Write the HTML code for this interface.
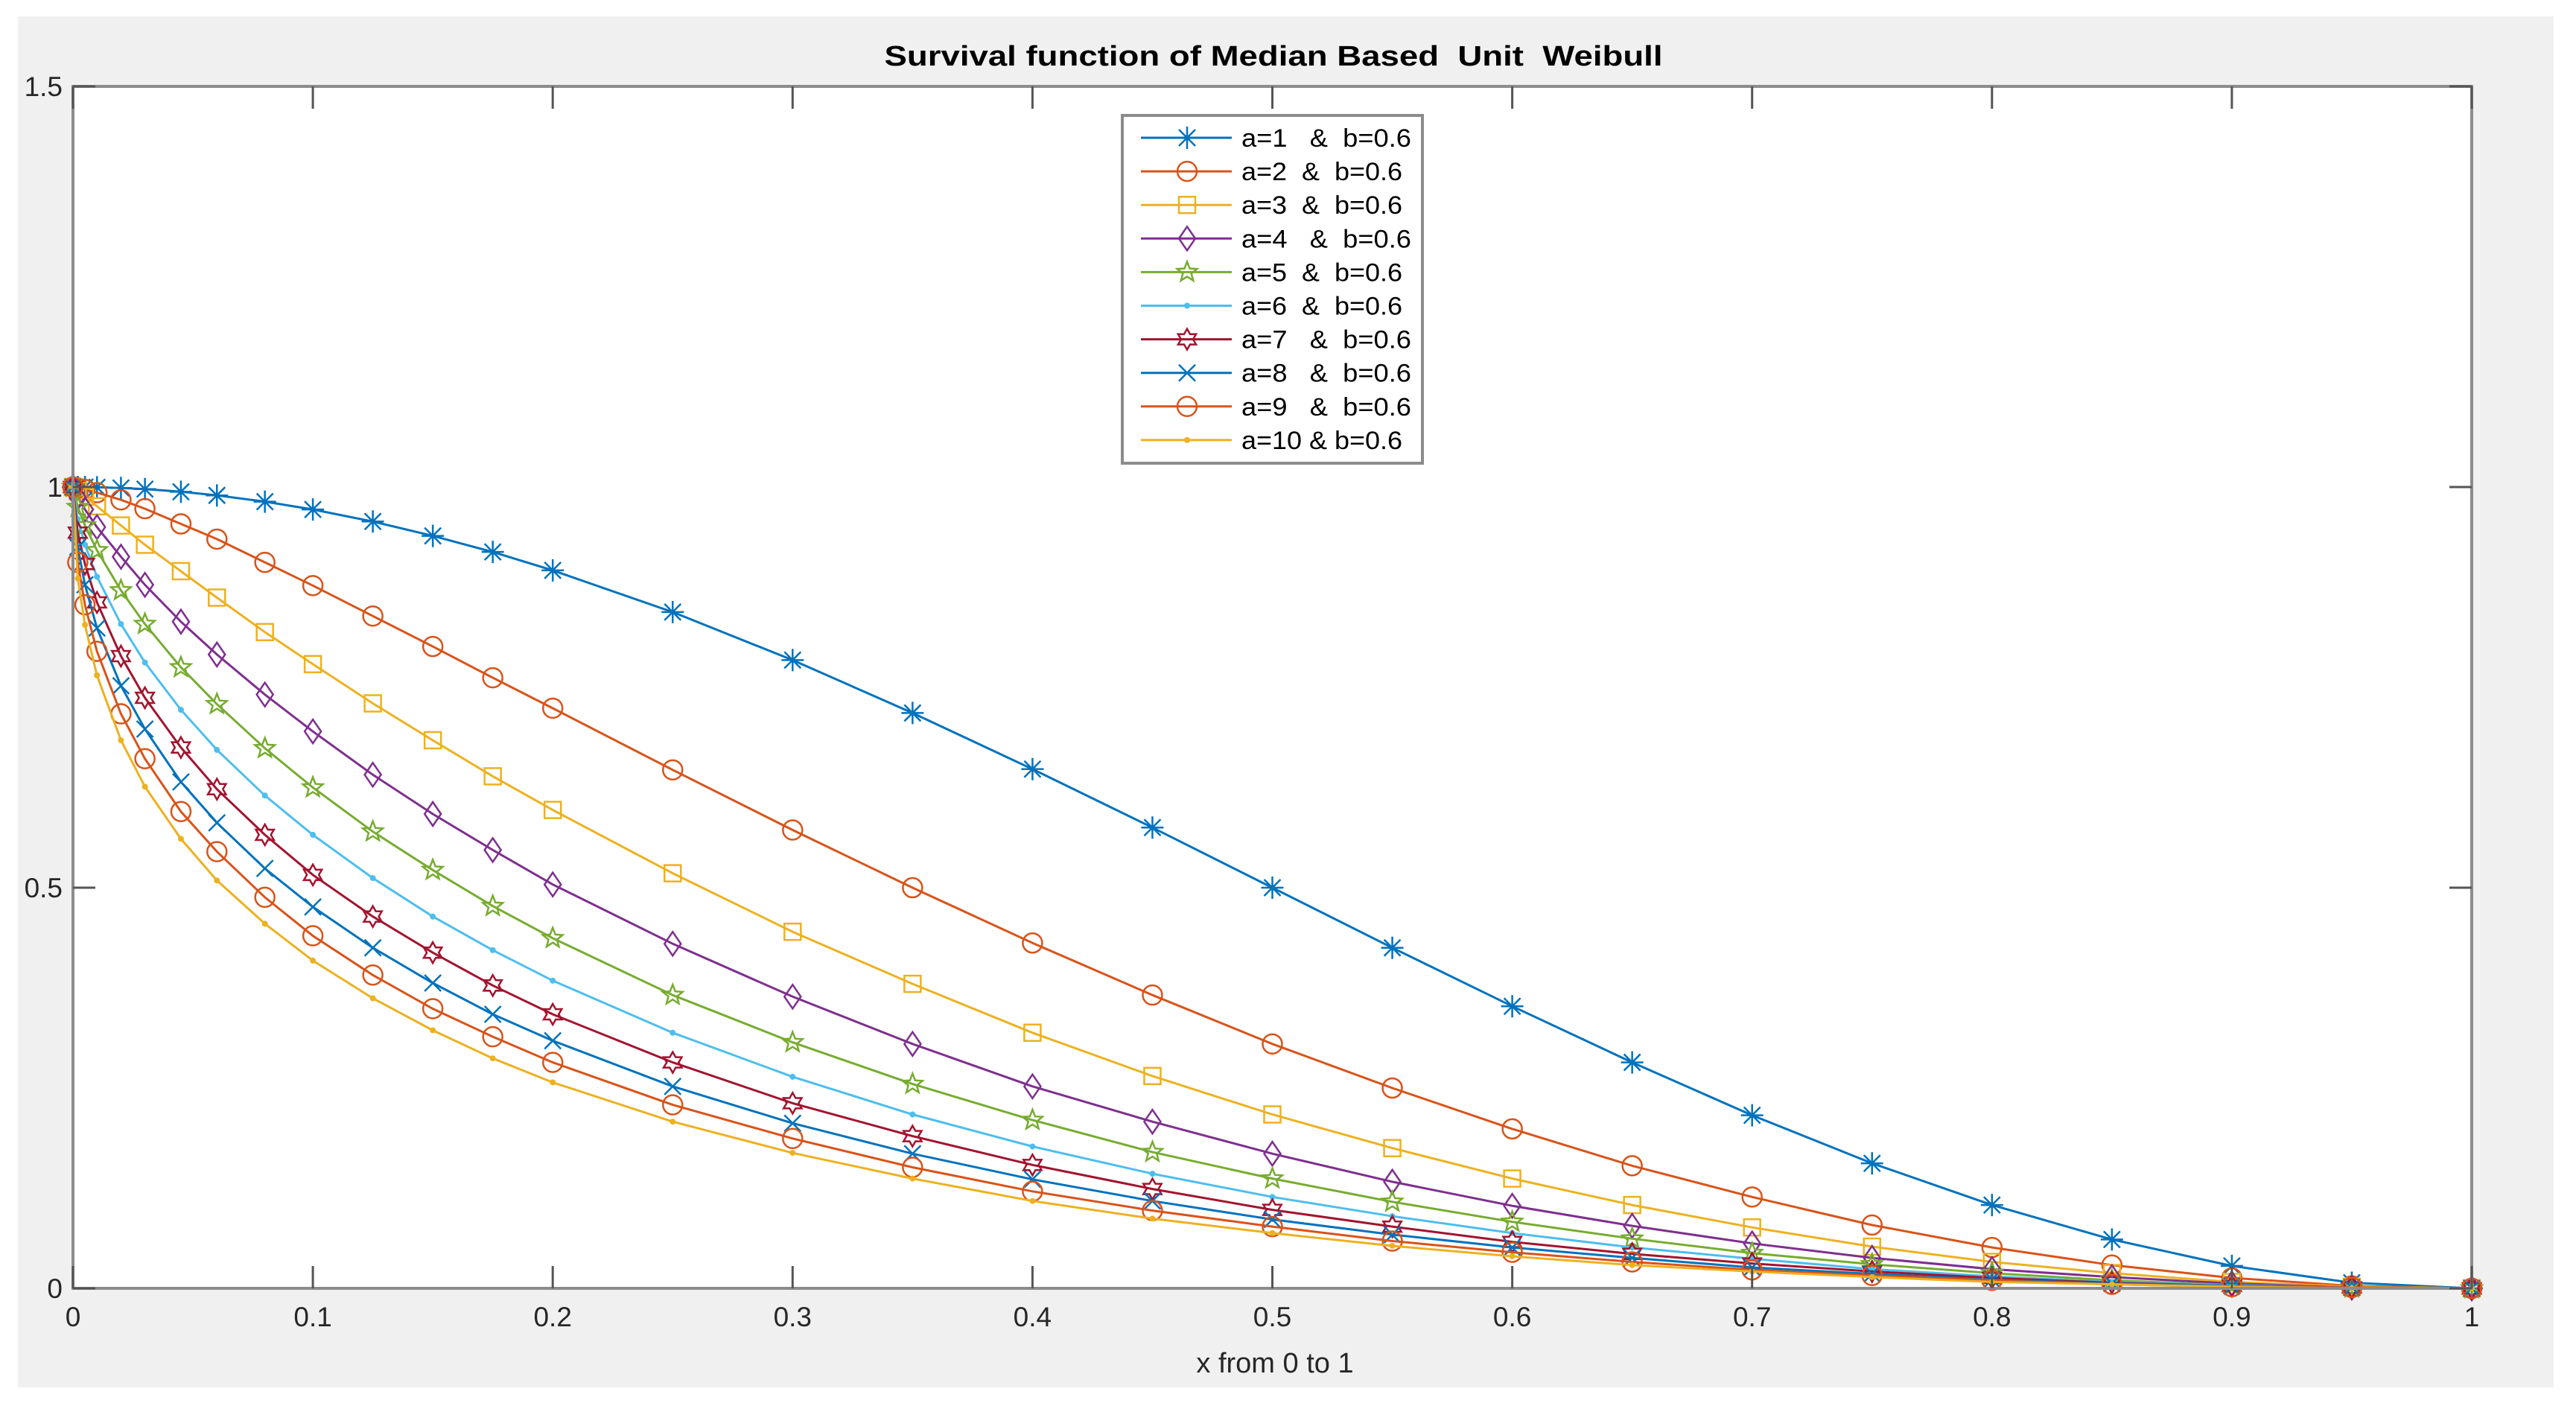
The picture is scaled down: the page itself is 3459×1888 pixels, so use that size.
<!DOCTYPE html>
<html><head><meta charset="utf-8"><style>
html,body{margin:0;padding:0;background:#fff}
svg{display:block}
text{font-family:"Liberation Sans",sans-serif}
.pre{white-space:pre}
</style></head><body>
<svg id="chart" width="3459" height="1888" viewBox="0 0 3459 1888" xmlns="http://www.w3.org/2000/svg">
<rect x="0" y="0" width="3459" height="1888" fill="#ffffff"/>
<rect x="24" y="22" width="3405" height="1841" fill="#f0f0f0"/>
<rect x="98" y="116" width="3221" height="1614" fill="#ffffff"/>
<g id="series-layer"></g>
<g id="axes-layer"></g>
<text x="1710" y="88" text-anchor="middle" font-size="38" font-weight="bold" fill="#000" textLength="1045" lengthAdjust="spacingAndGlyphs" class="pre">Survival function of Median Based  Unit  Weibull</text>
<text x="1712" y="1843" text-anchor="middle" font-size="38" fill="#262626">x from 0 to 1</text>
<g id="legend"></g>
</svg>
<script>
const xValues = [0,0.002,0.005,0.01,0.02,0.03,0.045,0.06,0.08,0.1,0.125,0.15,0.175,0.2,0.25,0.3,0.35,0.4,0.45,0.5,0.55,0.6,0.65,0.7,0.75,0.8,0.85,0.9,0.95,1];
const sA1 = [1,1,1,0.9997,0.9988,0.9974,0.9941,0.9896,0.9818,0.972,0.957,0.939,0.919,0.896,0.844,0.784,0.718,0.648,0.575,0.5,0.425,0.352,0.282,0.216,0.156,0.104,0.061,0.028,0.007,0];
const sA2 = [1,0.999,0.997,0.993,0.984,0.973,0.954,0.935,0.906,0.877,0.839,0.801,0.762,0.724,0.647,0.572,0.5,0.431,0.366,0.305,0.25,0.199,0.153,0.114,0.079,0.051,0.029,0.013,0.003,0];
const sA3 = [1,0.995,0.988,0.976,0.952,0.928,0.895,0.862,0.819,0.779,0.73,0.684,0.639,0.597,0.518,0.445,0.38,0.319,0.265,0.217,0.175,0.137,0.104,0.076,0.052,0.033,0.019,0.008,0.002,0];
const sA4 = [1,0.987,0.972,0.95,0.913,0.878,0.832,0.791,0.741,0.695,0.641,0.592,0.547,0.504,0.43,0.364,0.305,0.252,0.208,0.168,0.133,0.103,0.078,0.056,0.038,0.024,0.014,0.006,0.001,0];
const sA5 = [1,0.975,0.952,0.921,0.871,0.829,0.775,0.729,0.674,0.625,0.57,0.522,0.477,0.437,0.366,0.307,0.255,0.21,0.17,0.137,0.108,0.083,0.062,0.044,0.03,0.019,0.01,0.004,0.001,0];
const sA6 = [1,0.96,0.928,0.888,0.829,0.781,0.722,0.672,0.615,0.566,0.512,0.464,0.422,0.384,0.319,0.264,0.217,0.177,0.143,0.114,0.09,0.069,0.051,0.037,0.024,0.015,0.008,0.004,0.001,0];
const sA7 = [1,0.943,0.904,0.856,0.789,0.737,0.675,0.623,0.566,0.516,0.464,0.419,0.378,0.342,0.282,0.231,0.19,0.154,0.124,0.098,0.077,0.058,0.043,0.031,0.021,0.013,0.007,0.003,0.001,0];
const sA8 = [1,0.925,0.878,0.824,0.752,0.698,0.632,0.581,0.524,0.476,0.425,0.381,0.342,0.309,0.252,0.206,0.168,0.136,0.109,0.086,0.067,0.051,0.038,0.026,0.018,0.011,0.006,0.003,0.001,0];
const sA9 = [1,0.906,0.853,0.795,0.717,0.661,0.595,0.545,0.488,0.44,0.391,0.349,0.314,0.282,0.229,0.187,0.151,0.121,0.097,0.077,0.059,0.045,0.033,0.023,0.016,0.01,0.005,0.002,0.001,0];
const sA10 = [1,0.886,0.828,0.765,0.684,0.626,0.561,0.509,0.455,0.409,0.362,0.322,0.287,0.257,0.208,0.169,0.137,0.109,0.087,0.069,0.053,0.04,0.029,0.021,0.014,0.008,0.005,0.002,0,0];
const seriesLabels = ["a=1   &  b=0.6","a=2  &  b=0.6","a=3  &  b=0.6","a=4   &  b=0.6","a=5  &  b=0.6","a=6  &  b=0.6","a=7   &  b=0.6","a=8   &  b=0.6","a=9   &  b=0.6","a=10 & b=0.6"];
const xTicks = [0,0.1,0.2,0.3,0.4,0.5,0.6,0.7,0.8,0.9,1];
const xTickLabels = ["0","0.1","0.2","0.3","0.4","0.5","0.6","0.7","0.8","0.9","1"];
const yTicks = [0,0.5,1,1.5];
const yTickLabels = ["0","0.5","1","1.5"];

const allSeries = [sA1,sA2,sA3,sA4,sA5,sA6,sA7,sA8,sA9,sA10];
const colors = ["#0072BD","#D95319","#EDB120","#7E2F8E","#77AC30","#4DBEEE","#A2142F","#0072BD","#D95319","#EDB120"];
const markers = ["star","circle","square","diamond","pentagram","dot","hexagram","cross","circle","dot"];
const L=98,R=3319,T=116,B=1730;
function sx(v){return L+(v-0)/(1-0)*(R-L);}
function sy(v){return B-(v-0)/(1.5-0)*(B-T);}
const NS="http://www.w3.org/2000/svg";
function mk(tag,attrs,parent){const e=document.createElementNS(NS,tag);for(const k in attrs)e.setAttribute(k,attrs[k]);parent.appendChild(e);return e;}
function starPts(cx,cy,n,ro,ri){let p=[];for(let i=0;i<2*n;i++){const r=i%2?ri:ro;const a=-Math.PI/2+i*Math.PI/n;p.push((cx+r*Math.cos(a)).toFixed(1)+","+(cy+r*Math.sin(a)).toFixed(1));}return p.join(" ");}
function drawMarker(type,cx,cy,color,g){
  let e;
  const sw=2.5;
  if(type==="circle"){e=mk("circle",{cx:cx,cy:cy,r:13,fill:"none",stroke:color,"stroke-width":sw},g);}
  else if(type==="square"){e=mk("rect",{x:cx-11,y:cy-11,width:22,height:22,fill:"none",stroke:color,"stroke-width":sw},g);}
  else if(type==="diamond"){e=mk("polygon",{points:`${cx},${cy-16} ${cx+11},${cy} ${cx},${cy+16} ${cx-11},${cy}`,fill:"none",stroke:color,"stroke-width":sw},g);}
  else if(type==="pentagram"){e=mk("polygon",{points:starPts(cx,cy,5,14,6),fill:"none",stroke:color,"stroke-width":sw},g);}
  else if(type==="hexagram"){e=mk("polygon",{points:starPts(cx,cy,6,14,8),fill:"none",stroke:color,"stroke-width":sw},g);}
  else if(type==="dot"){e=mk("circle",{cx:cx,cy:cy,r:4,fill:color},g);}
  else if(type==="cross"){e=mk("path",{d:`M${cx-11},${cy-11}L${cx+11},${cy+11}M${cx-11},${cy+11}L${cx+11},${cy-11}`,stroke:color,"stroke-width":sw,fill:"none"},g);}
  else if(type==="star"){e=mk("path",{d:`M${cx},${cy-15}V${cy+15}M${cx-15},${cy}H${cx+15}M${cx-11},${cy-11}L${cx+11},${cy+11}M${cx-11},${cy+11}L${cx+11},${cy-11}`,stroke:color,"stroke-width":sw,fill:"none"},g);}
  return e;
}
const layer=document.getElementById("series-layer");
allSeries.forEach((vals,si)=>{
  const g=mk("g",{},layer);
  
  
  const pts=vals.map((v,i)=>sx(xValues[i]).toFixed(1)+","+sy(v).toFixed(1)).join(" ");
  const pl=mk("polyline",{points:pts,fill:"none",stroke:colors[si],"stroke-width":3},g);
  
  
  vals.forEach((v,i)=>{
    const m=drawMarker(markers[si],sx(xValues[i]),sy(v),colors[si],g);
    
    
  });
});
const ax=document.getElementById("axes-layer");
const box=mk("rect",{x:L,y:T,width:R-L,height:B-T,fill:"none",stroke:"#8c8c8c","stroke-width":4},ax);


xTicks.forEach((t,i)=>{
  const x=sx(t);
  const tk=mk("path",{d:`M${x},${B}v-30M${x},${T}v30`,stroke:"#555","stroke-width":3},ax);
  
  
  const lb=mk("text",{x:x,y:1781,"text-anchor":"middle","font-size":37,fill:"#262626"},ax);
  lb.textContent=xTickLabels[i];
  
  
});
yTicks.forEach((t,i)=>{
  const y=sy(t);
  const tk=mk("path",{d:`M${L},${y}h30M${R},${y}h-30`,stroke:"#555","stroke-width":3},ax);
  
  
  const lb=mk("text",{x:84,y:y+13,"text-anchor":"end","font-size":37,fill:"#262626"},ax);
  lb.textContent=yTickLabels[i];
  
  
});
const lg=document.getElementById("legend");
const lbox=mk("rect",{x:1507,y:155,width:403,height:467,fill:"#fff",stroke:"#8c8c8c","stroke-width":4},lg);


seriesLabels.forEach((s,i)=>{
  const y=185+i*45.1;
  const g=mk("g",{},lg);
  
  
  mk("line",{x1:1532,x2:1654,y1:y,y2:y,stroke:colors[i],"stroke-width":3},g);
  drawMarker(markers[i],1594,y,colors[i],g);
  const long=[0,3,6,7,8].includes(i);
  const t=mk("text",{x:1667,y:y+12,"font-size":34,fill:"#000",textLength:long?228:216,lengthAdjust:"spacingAndGlyphs"},g);
  t.style.whiteSpace="pre";
  t.textContent=s;
  
  
});
</script>
</body></html>
